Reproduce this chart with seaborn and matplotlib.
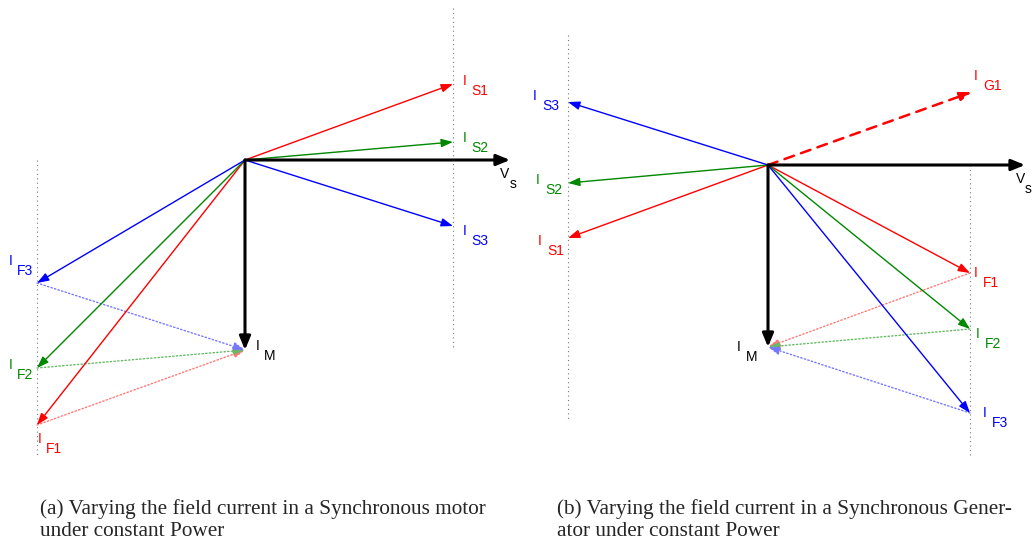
import matplotlib
matplotlib.use("Agg")
import matplotlib.pyplot as plt
import seaborn as sns
import pandas as pd

# =========================
# Phasor data (pixel-like units, origin at the common point)
# =========================
# (a) motor
mot_vs = (265, 0)
mot_im = (0, -190)
mot_is_x = [208, 208, 208]
mot_is_y = [76, 18, -66]
mot_if_x = [-208, -208, -208]
mot_if_y = [-265, -208, -123]

# (b) generator
gen_vs = (257, 0)
gen_im = (0, -182)
gen_is_x = [-200, -200, -200]
gen_is_y = [-73, -18, 63]
gen_if_x = [202, 202, 202]
gen_if_y = [-108, -164, -248]
gen_ig1 = (204, 73)

captions = ["(a) Varying the field current in a Synchronous motor\nunder constant Power",
            "(b) Varying the field current in a Synchronous Gener-\nator under constant Power"]

colors = ["#ff0000", "#008800", "#0000ff"]
light = ["#ff7777", "#66bb66", "#7777ff"]

sns.set_style("white")
plt.rcParams["font.family"] = ["Liberation Sans", "DejaVu Sans"]

fig = plt.figure(figsize=(10.32, 5.45), dpi=100)
ax1 = fig.add_axes([0, 0, 0.5, 1])
ax2 = fig.add_axes([0.5, 0, 0.5, 1])
ax1.set_xlim(-245, 271)
ax1.set_ylim(-385, 160)
ax2.set_xlim(-252, 264)
ax2.set_ylim(-380, 165)


def arrow(ax, start, end, color, lw=1.0, ls="-", head=(0.7, 0.25), alpha=1.0):
    ax.annotate("", xy=end, xytext=start,
                arrowprops=dict(arrowstyle=f"-|>,head_length={head[0]},head_width={head[1]}",
                                color=color, lw=lw, ls=ls, alpha=alpha,
                                shrinkA=0, shrinkB=0))


def label(ax, x, y, main, sub, color, dx=8):
    ax.text(x, y, main, color=color, fontsize=10, ha="left", va="baseline")
    ax.text(x + dx, y - 10, sub, color=color, fontsize=10, ha="left", va="baseline")


def guides(ax, segs):
    for (x, y0, y1) in segs:
        df = pd.DataFrame({"x": [x, x], "y": [y0, y1]})
        sns.lineplot(data=df, x="x", y="y", ax=ax, color="#777777", lw=0.8,
                     ls=(0, (1, 3)), sort=False, estimator=None)


# ---------- (a) motor ----------
guides(ax1, [(208, 152, -187), (-208, 0, -295)])
for i in range(3):
    arrow(ax1, (mot_if_x[i], mot_if_y[i]), mot_im, light[i], lw=1.0, ls=":")
for i in range(3):
    arrow(ax1, (0, 0), (mot_is_x[i], mot_is_y[i]), colors[i])
    arrow(ax1, (0, 0), (mot_if_x[i], mot_if_y[i]), colors[i])
arrow(ax1, (0, 0), mot_vs, "black", lw=2.2, head=(0.8, 0.33))
arrow(ax1, (0, 0), mot_im, "black", lw=2.2, head=(0.8, 0.33))

mot_labels = {"S1": (218, 75), "S2": (218, 18), "S3": (218, -75),
              "F3": (-236, -105), "F2": (-236, -209), "F1": (-207, -283)}
for k, (x, y) in mot_labels.items():
    label(ax1, x, y, "I", k, colors[int(k[1]) - 1])
label(ax1, 11, -190, "I", "M", "black")
label(ax1, 255, -18, "V", "s", "black", dx=10)

# ---------- (b) generator ----------
guides(ax2, [(-200, 130, -255), (202, 0, -290)])
for i in range(3):
    arrow(ax2, (gen_if_x[i], gen_if_y[i]), gen_im, light[i], lw=1.0, ls=":")
for i in range(3):
    arrow(ax2, (0, 0), (gen_is_x[i], gen_is_y[i]), colors[i])
    arrow(ax2, (0, 0), (gen_if_x[i], gen_if_y[i]), colors[i])
arrow(ax2, (0, 0), gen_ig1, colors[0], lw=1.8, ls=(0, (4, 3)))
arrow(ax2, (0, 0), gen_vs, "black", lw=2.2, head=(0.8, 0.33))
arrow(ax2, (0, 0), gen_im, "black", lw=2.2, head=(0.8, 0.33))

gen_labels = {"S3": (-235, 65), "S2": (-232, -19), "S1": (-230, -80),
              "F1": (206, -112), "F2": (208, -173), "F3": (215, -252)}
for k, (x, y) in gen_labels.items():
    label(ax2, x, y, "I", k, colors[int(k[1]) - 1], dx=9)
label(ax2, 206, 85, "I", "G1", colors[0], dx=9)
label(ax2, -31, -186, "I", "M", "black", dx=9)
label(ax2, 248, -18, "V", "s", "black", dx=9)

for ax in (ax1, ax2):
    ax.set_xlabel("")
    ax.set_ylabel("")
    ax.axis("off")

# ---------- captions ----------
fig.text(40 / 1032, 1 - 499 / 545, captions[0], family="Liberation Serif",
         fontsize=15.3, ha="left", va="top", linespacing=1.22)
fig.text(557 / 1032, 1 - 499 / 545, captions[1], family="Liberation Serif",
         fontsize=15.3, ha="left", va="top", linespacing=1.22)

fig.savefig("out.png", dpi=100)
